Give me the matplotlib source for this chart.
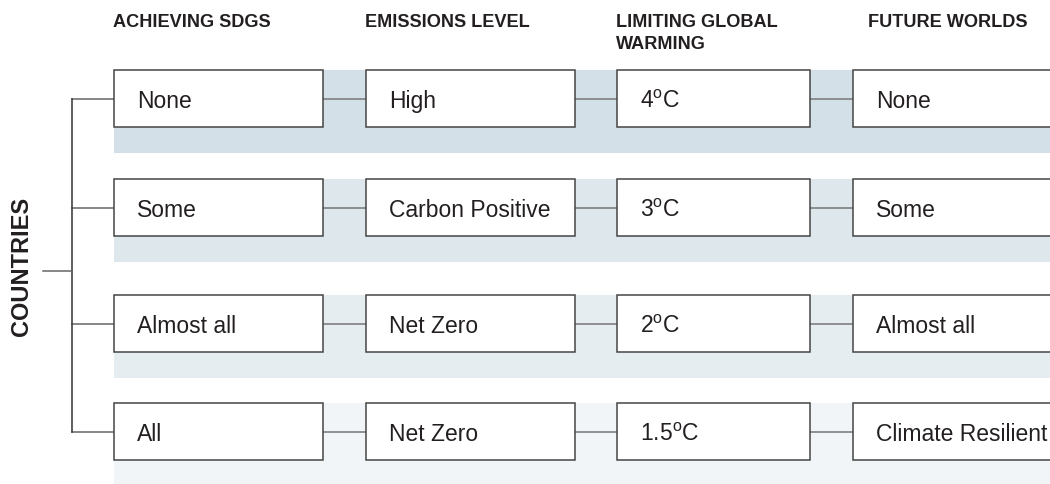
import matplotlib.pyplot as plt
from matplotlib.patches import Rectangle

plt.rcParams['font.family'] = ['Liberation Sans', 'DejaVu Sans']
plt.rcParams['mathtext.fontset'] = 'custom'
plt.rcParams['mathtext.rm'] = 'Liberation Sans'

# data
headers = ["ACHIEVING SDGS", "EMISSIONS LEVEL", "LIMITING GLOBAL\nWARMING", "FUTURE WORLDS"]
sdgs = ["None", "Some", "Almost all", "All"]
emissions = ["High", "Carbon Positive", "Net Zero", "Net Zero"]
warming = [r"4$^\mathrm{o}$C", r"3$^\mathrm{o}$C", r"2$^\mathrm{o}$C", r"1.5$^\mathrm{o}$C"]
worlds = ["None", "Some", "Almost all", "Climate Resilient"]
root_label = "COUNTRIES"

# layout (pixels)
col_left = [114, 366, 617, 853]
col_width = [209, 209, 193, 209]
header_x = [113, 365, 616, 868]
row_top = [71, 180, 296, 404]
box_h = 57
band_extra = 26
band_colors = ["#d3e0e7", "#dee7ec", "#e6edf1", "#f1f5f8"]
tree_x = 72

fig = plt.figure(figsize=(10.5, 4.85), dpi=100)
ax = fig.add_axes([0, 0, 1, 1])
ax.set_xlim(0, 1050)
ax.set_ylim(485, 0)
ax.axis("off")

columns = [sdgs, emissions, warming, worlds]
centers = [t + box_h / 2 for t in row_top]

for r in range(len(sdgs)):
    # shaded band behind the row
    ax.add_patch(Rectangle((col_left[0], row_top[r]), 1050 - col_left[0], box_h + band_extra,
                           facecolor=band_colors[r], edgecolor="none", zorder=0))
    cy = centers[r]
    for c, col in enumerate(columns):
        ax.add_patch(Rectangle((col_left[c], row_top[r]), col_width[c], box_h,
                               facecolor="white", edgecolor="#454545", linewidth=1.1, zorder=2))
        ax.text(col_left[c] + 23, cy + 8.5, col[r], fontsize=16.5, color="#231f20",
                va="baseline", ha="left", zorder=3)
        if c > 0:
            x0 = col_left[c - 1] + col_width[c - 1]
            ax.plot([x0, col_left[c]], [cy, cy], color="#7f7f7f", lw=1.2, zorder=1)
    ax.plot([tree_x, col_left[0]], [cy, cy], color="#666666", lw=1.1, zorder=1)

# tree
ax.plot([tree_x, tree_x], [centers[0], centers[-1]], color="#333333", lw=1.1)
ax.plot([43, tree_x], [271.5, 271.5], color="#666666", lw=1.1)
ax.text(21.5, 266, root_label, rotation=90, fontsize=17, fontweight="bold",
        color="#231f20", ha="center", va="center")

for c, h in enumerate(headers):
    ax.text(header_x[c], 27.3, h.split("\n")[0], fontsize=13.1, fontweight="bold",
            color="#231f20", ha="left", va="baseline")
    if "\n" in h:
        ax.text(header_x[c], 49.3, h.split("\n")[1], fontsize=13.1, fontweight="bold",
                color="#231f20", ha="left", va="baseline")

fig.savefig("out.png", dpi=100)
